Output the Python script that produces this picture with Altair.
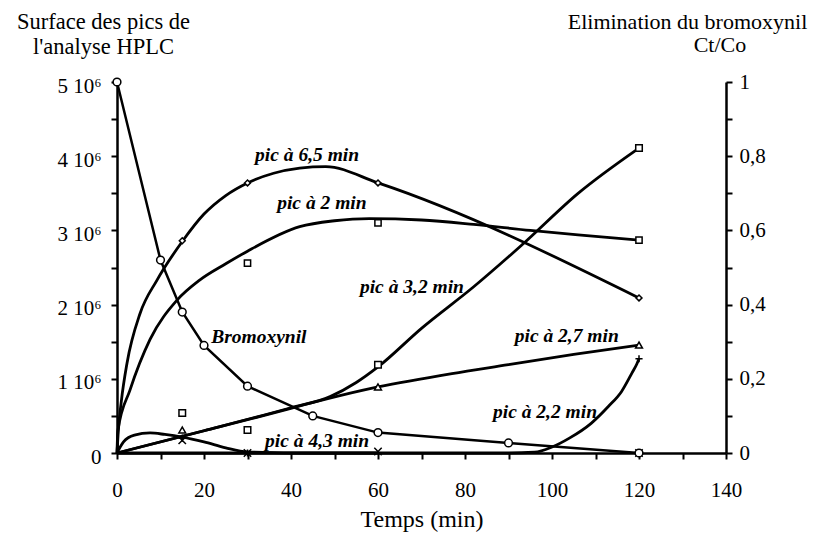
import altair as alt
import pandas as pd

# ---- Bromoxynil elimination, Ct/Co (right axis) ----
bromo_t = [0, 10, 15, 20, 30, 45, 60, 90, 120]
bromo_c = [1.0, 0.52, 0.38, 0.29, 0.18, 0.10, 0.055, 0.027, 0.0]

# ---- HPLC peak areas, in units of 10^6 (left axis): measured points ----
p65_t = [15, 30, 60, 120]
p65_s = [2.86, 3.64, 3.64, 2.09]
p2_t = [30, 60, 120]
p2_s = [2.56, 3.10, 2.87]
p32_t = [15, 30, 60, 120]
p32_s = [0.54, 0.31, 1.19, 4.11]
p27_t = [15, 60, 120]
p27_s = [0.31, 0.89, 1.455]
p22_t = [15, 30, 120]
p22_s = [0.20, 0.0, 1.27]
p43_t = [15, 30, 60, 120]
p43_s = [0.17, 0.0, 0.02, 0.0]

# ---- fitted curves ----
c65_t = [0, 0.3, 1, 2.3, 5.3, 9.2, 15, 20, 25, 30, 36, 42, 48, 60, 120]
c65_s = [0, 0.3, 0.7, 1.21, 1.88, 2.33, 2.85, 3.22, 3.47, 3.64, 3.77, 3.84, 3.86, 3.64, 2.09]
c2_t = [0, 0.2, 3, 7.6, 13.8, 19, 25, 30, 42, 50, 58, 70, 82, 95, 106, 120]
c2_s = [0, 0.3, 0.85, 1.53, 2.06, 2.33, 2.55, 2.72, 3.05, 3.13, 3.16, 3.14, 3.08, 3.0, 2.94, 2.87]
c32_t = [0, 20, 40, 49, 55, 60, 70, 82, 93, 106, 120]
c32_s = [0, 0.3, 0.61, 0.76, 0.95, 1.16, 1.68, 2.24, 2.8, 3.5, 4.11]
c27_t = [0, 30, 60, 77, 90, 105, 120]
c27_s = [0, 0.45, 0.89, 1.07, 1.19, 1.33, 1.455]
c22_t = [0, 30, 60, 90, 96, 100, 104, 109, 113, 116, 118.4, 119.5, 120]
c22_s = [0, 0, 0, 0, 0.01, 0.08, 0.2, 0.4, 0.63, 0.83, 1.08, 1.2, 1.27]
c43_t = [0, 1.5, 4, 7.6, 11, 15, 20, 25, 30, 45, 60]
c43_s = [0, 0.15, 0.24, 0.27, 0.25, 0.215, 0.15, 0.07, 0.015, 0, 0]

# ---- annotations ----
lab_text = ["pic à 6,5 min", "pic à 2 min", "pic à 3,2 min", "pic à 2,7 min",
            "pic à 2,2 min", "pic à 4,3 min", "Bromoxynil"]
lab_t = [43.7, 47.1, 67.8, 103.4, 98.4, 46.0, 32.6]
lab_s = [4.02, 3.37, 2.24, 1.58, 0.55, 0.16, 1.56]
right_title2 = "Ct/Co"
right_title2_t = 138.6
right_title2_s = 5.5

FONT = "Liberation Serif"

curves = []
for name, t, s in [("6,5", c65_t, c65_s), ("2", c2_t, c2_s), ("3,2", c32_t, c32_s),
                   ("2,7", c27_t, c27_s), ("2,2", c22_t, c22_s), ("4,3", c43_t, c43_s)]:
    for i, (a, b) in enumerate(zip(t, s)):
        curves.append({"serie": name, "t": a, "s": b, "o": i})
curves = pd.DataFrame(curves)

pts = []
for name, t, s in [("6,5", p65_t, p65_s), ("2", p2_t, p2_s), ("3,2", p32_t, p32_s),
                   ("2,7", p27_t, p27_s), ("2,2", p22_t, p22_s), ("4,3", p43_t, p43_s)]:
    for a, b in zip(t, s):
        pts.append({"serie": name, "t": a, "s": b})
pts = pd.DataFrame(pts)

labs = pd.DataFrame({"label": lab_text, "t": lab_t, "s": lab_s})
rt2 = pd.DataFrame({"label": [right_title2], "t": [right_title2_t], "s": [right_title2_s]})
bromo = pd.DataFrame({"t": bromo_t, "s": bromo_c})

xscale = alt.Scale(domain=[0, 140], nice=False, zero=False)
xaxis = alt.Axis(values=list(range(0, 141, 10)),
                 labelExpr="datum.value % 20 == 0 ? datum.label : ''",
                 title="Temps (min)", labelPadding=20, titleBaseline="alphabetic", titleY=73,
                 titleFontSize=24)
lscale = alt.Scale(domain=[0, 5], nice=False)
laxis = alt.Axis(values=[i / 2 for i in range(11)],
                 labelExpr="datum.value == 0 ? '0' : (datum.value % 1 == 0 ? datum.value + ' 10⁶' : '')",
                 title=["Surface des pics de", "l'analyse HPLC"], titleAngle=0, titleAlign="center",
                 titleBaseline="alphabetic", titleX=-14, titleY=-54, titleLineHeight=25,
                 titleFontSize=22.5, labelPadding=10, labelOffset=4)
rscale = alt.Scale(domain=[0, 1], nice=False)
raxis = alt.Axis(orient="right", values=[i / 10 for i in range(11)],
                 labelExpr="datum.value == 0 ? '0' : (round(datum.value*10) % 2 == 0 ? replace(format(datum.value, '.1~f'), '.', ',') : '')",
                 title="Elimination du bromoxynil", titleAngle=0, titleAlign="center",
                 titleBaseline="alphabetic", titleX=-39, titleY=-54, titleFontSize=22, labelPadding=7)

X = alt.X("t:Q", scale=xscale, axis=xaxis)
YL = alt.Y("s:Q", scale=lscale, axis=laxis)
YR = alt.Y("s:Q", scale=rscale, axis=raxis)

curve_layer = alt.Chart(curves).mark_line(interpolate="monotone", color="black", strokeWidth=2.8).encode(
    x=X, y=YL, detail="serie:N", order="o:Q")

shape_dom = ["6,5", "2", "3,2", "2,7", "2,2", "4,3"]
shape_rng = ["diamond", "square", "square", "triangle-up", "M-1,0H1M0,-1V1", "M-1,-1L1,1M-1,1L1,-1"]
size_rng = [35, 55, 55, 40, 70, 50]
point_layer = alt.Chart(pts).mark_point(filled=True, fill="white", stroke="black", strokeWidth=1.5, opacity=1).encode(
    x=X, y=YL,
    shape=alt.Shape("serie:N", scale=alt.Scale(domain=shape_dom, range=shape_rng), legend=None),
    size=alt.Size("serie:N", scale=alt.Scale(domain=shape_dom, range=size_rng), legend=None))

text_layer = alt.Chart(labs).mark_text(font=FONT, fontStyle="italic", fontWeight="bold", fontSize=19.5,
                                       color="black", baseline="middle", align="center").encode(
    x=X, y=YL, text="label:N")

rt2_layer = alt.Chart(rt2).mark_text(font=FONT, fontSize=22, color="black", baseline="middle",
                                     align="center").encode(
    x=X, y=YL, text="label:N")

left = alt.layer(curve_layer, point_layer, text_layer, rt2_layer)

bromo_line = alt.Chart(bromo).mark_line(color="black", strokeWidth=2.5).encode(x=X, y=YR)
bromo_pts = alt.Chart(bromo).mark_point(shape="circle", size=60, filled=True, fill="white",
                                        stroke="black", strokeWidth=1.5, opacity=1).encode(x=X, y=YR)
right = alt.layer(bromo_line, bromo_pts)

chart = alt.layer(left, right).resolve_scale(y="independent").properties(
    width=609, height=371,
    padding={"left": 109, "top": 74, "right": 90, "bottom": 80},
    autosize=alt.AutoSizeParams(type="none"),
).configure_view(stroke=None).configure_axis(
    grid=False, labelFont=FONT, labelFontSize=21, labelColor="black",
    titleFont=FONT, titleFontSize=21, titleFontWeight="normal", titleColor="black",
    domainColor="black", domainWidth=2.5, tickColor="black", tickWidth=2, tickSize=6,
    labelFlush=False, labelOverlap=False,
)

chart.save("out.html", embed_options={"renderer": "svg", "actions": False})
